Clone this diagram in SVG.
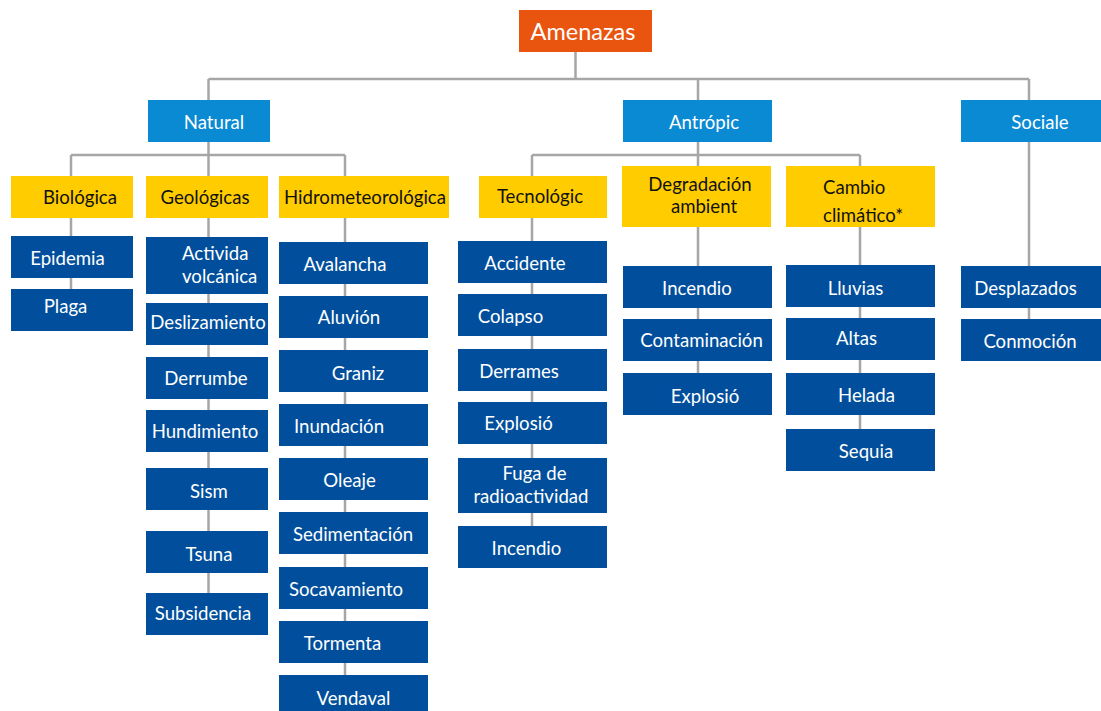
<svg xmlns="http://www.w3.org/2000/svg" width="1101" height="711" viewBox="0 0 1101 711">
<style>
.c{stroke:#A6A6A6;stroke-width:2.5;fill:none}
.root{fill:#E9540E}
.cat{fill:#0A8AD2}
.sub{fill:#FFCC00}
.leaf{fill:#014F9C}
text{font-family:Lato,"Liberation Sans",sans-serif;font-size:18.6px;text-anchor:middle}
.w{fill:#FFFFFF}
.k{fill:#111111}
.big{font-size:23.5px}
</style>
<rect width="1101" height="711" fill="#FFFFFF"/>
<g id="connectors">
<path class="c" d="M575.5 52V79M208.5 79H1029M208.5 79V100M698 79V100M1029 79V100"/>
<path class="c" d="M71 155H345M71 155V176M345 155V176M208.5 142V593M71 218V289M345 218V675"/>
<path class="c" d="M532 155H860M698 142V373M532 155V526M860 155V429"/>
<path class="c" d="M1029 142V319"/>
</g>
<g id="n-amenazas"><rect class="root" x="519" y="10" width="133" height="42"/><text class="w big" x="583" y="39.5">Amenazas</text></g>
<g id="n-natural"><rect class="cat" x="148" y="100" width="122" height="42"/><text class="w" x="214" y="129">Natural</text></g>
<g id="n-antropic"><rect class="cat" x="623" y="100" width="149" height="42"/><text class="w" x="704" y="129">Antrópic</text></g>
<g id="n-sociale"><rect class="cat" x="961" y="100" width="140" height="42"/><text class="w" x="1040" y="129">Sociale</text></g>
<g id="n-biologica"><rect class="sub" x="11" y="176" width="122" height="42"/><text class="k" x="80" y="204">Biológica</text></g>
<g id="n-geologicas"><rect class="sub" x="146" y="176" width="122" height="42"/><text class="k" x="205" y="204">Geológicas</text></g>
<g id="n-hidro"><rect class="sub" x="279" y="176" width="170" height="42"/><text class="k" x="365" y="204">Hidrometeorológica</text></g>
<g id="n-tecnologic"><rect class="sub" x="479" y="176" width="128" height="42"/><text class="k" x="540" y="203">Tecnológic</text></g>
<g id="n-degradacion"><rect class="sub" x="622" y="166" width="149" height="61"/><text class="k" x="700" y="191">Degradación</text><text class="k" x="704" y="213">ambient</text></g>
<g id="n-cambio"><rect class="sub" x="786" y="166" width="149" height="61"/><text class="k" x="823" y="194" style="text-anchor:start">Cambio</text><text class="k" x="823" y="221.5" style="text-anchor:start">climático*</text></g>
<g id="n-epidemia"><rect class="leaf" x="11" y="236" width="122" height="42"/><text class="w" x="67.5" y="265">Epidemia</text></g>
<g id="n-plaga"><rect class="leaf" x="11" y="289" width="122" height="42"/><text class="w" x="65.5" y="313">Plaga</text></g>
<g id="n-actividad"><rect class="leaf" x="146" y="237" width="122" height="57"/><text class="w" x="182" y="260" style="text-anchor:start">Activida</text><text class="w" x="182" y="283" style="text-anchor:start">volcánica</text></g>
<g id="n-deslizamiento"><rect class="leaf" x="146" y="303" width="122" height="42"/><text class="w" x="208" y="329">Deslizamiento</text></g>
<g id="n-derrumbe"><rect class="leaf" x="146" y="357" width="122" height="42"/><text class="w" x="206" y="385">Derrumbe</text></g>
<g id="n-hundimiento"><rect class="leaf" x="146" y="410" width="122" height="42"/><text class="w" x="205" y="438">Hundimiento</text></g>
<g id="n-sism"><rect class="leaf" x="146" y="468" width="122" height="42"/><text class="w" x="209" y="498">Sism</text></g>
<g id="n-tsuna"><rect class="leaf" x="146" y="531" width="122" height="42"/><text class="w" x="209" y="561">Tsuna</text></g>
<g id="n-subsidencia"><rect class="leaf" x="146" y="593" width="122" height="42"/><text class="w" x="203" y="620">Subsidencia</text></g>
<g id="n-avalancha"><rect class="leaf" x="279" y="242" width="149" height="42"/><text class="w" x="345" y="271">Avalancha</text></g>
<g id="n-aluvion"><rect class="leaf" x="279" y="296" width="149" height="42"/><text class="w" x="349" y="324">Aluvión</text></g>
<g id="n-graniz"><rect class="leaf" x="279" y="350" width="149" height="42"/><text class="w" x="358" y="380">Graniz</text></g>
<g id="n-inundacion"><rect class="leaf" x="279" y="404" width="149" height="42"/><text class="w" x="339" y="433">Inundación</text></g>
<g id="n-oleaje"><rect class="leaf" x="279" y="458" width="149" height="42"/><text class="w" x="349.5" y="487">Oleaje</text></g>
<g id="n-sedimentacion"><rect class="leaf" x="279" y="512" width="149" height="42"/><text class="w" x="353" y="541">Sedimentación</text></g>
<g id="n-socavamiento"><rect class="leaf" x="279" y="567" width="149" height="42"/><text class="w" x="346" y="596">Socavamiento</text></g>
<g id="n-tormenta"><rect class="leaf" x="279" y="621" width="149" height="42"/><text class="w" x="342.5" y="650">Tormenta</text></g>
<g id="n-vendaval"><rect class="leaf" x="279" y="675" width="149" height="42"/><text class="w" x="353.5" y="705">Vendaval</text></g>
<g id="n-accidente"><rect class="leaf" x="458" y="241" width="149" height="42"/><text class="w" x="525" y="270">Accidente</text></g>
<g id="n-colapso"><rect class="leaf" x="458" y="294" width="149" height="42"/><text class="w" x="510.5" y="323">Colapso</text></g>
<g id="n-derrames"><rect class="leaf" x="458" y="349" width="149" height="42"/><text class="w" x="519" y="377.5">Derrames</text></g>
<g id="n-explosio1"><rect class="leaf" x="458" y="402" width="149" height="42"/><text class="w" x="518.5" y="430">Explosió</text></g>
<g id="n-fuga"><rect class="leaf" x="458" y="458" width="149" height="55"/><text class="w" x="534.5" y="480">Fuga de</text><text class="w" x="531" y="503">radioactividad</text></g>
<g id="n-incendio1"><rect class="leaf" x="458" y="526" width="149" height="42"/><text class="w" x="526.5" y="555">Incendio</text></g>
<g id="n-incendio2"><rect class="leaf" x="623" y="266" width="149" height="42"/><text class="w" x="697" y="295">Incendio</text></g>
<g id="n-contaminacion"><rect class="leaf" x="623" y="319" width="149" height="42"/><text class="w" x="701.5" y="346.5">Contaminación</text></g>
<g id="n-explosio2"><rect class="leaf" x="623" y="373" width="149" height="42"/><text class="w" x="705" y="402.5">Explosió</text></g>
<g id="n-lluvias"><rect class="leaf" x="786" y="265" width="149" height="42"/><text class="w" x="855.5" y="295">Lluvias</text></g>
<g id="n-altas"><rect class="leaf" x="786" y="318" width="149" height="42"/><text class="w" x="856.5" y="345">Altas</text></g>
<g id="n-helada"><rect class="leaf" x="786" y="373" width="149" height="42"/><text class="w" x="866.5" y="402">Helada</text></g>
<g id="n-sequia"><rect class="leaf" x="786" y="429" width="149" height="42"/><text class="w" x="866" y="458">Sequia</text></g>
<g id="n-desplazados"><rect class="leaf" x="961" y="266" width="140" height="42"/><text class="w" x="1025.5" y="295">Desplazados</text></g>
<g id="n-conmocion"><rect class="leaf" x="961" y="319" width="140" height="42"/><text class="w" x="1030" y="347.5">Conmoción</text></g>
</svg>
